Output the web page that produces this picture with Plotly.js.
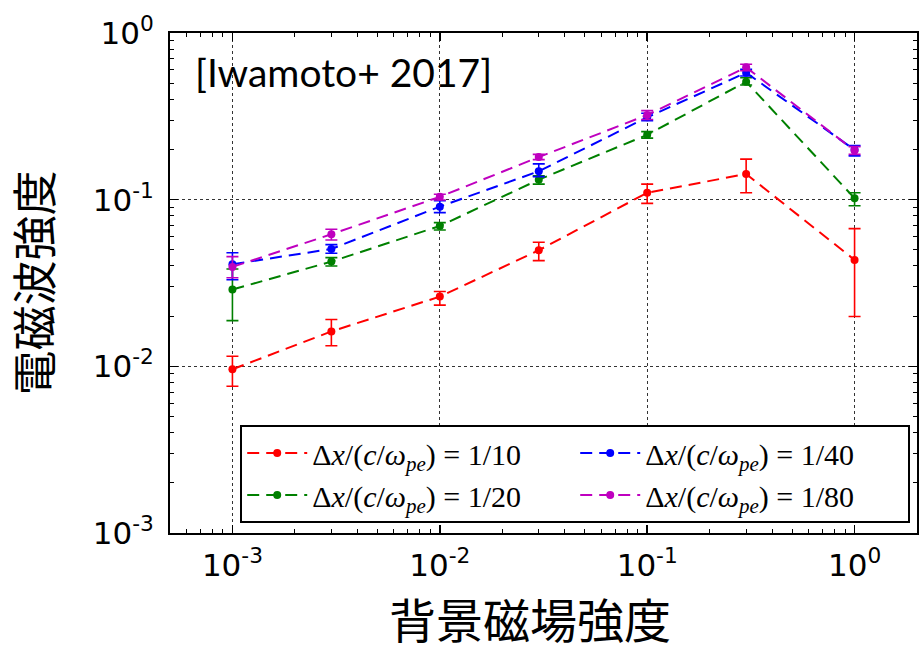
<!DOCTYPE html>
<html>
<head>
<meta charset="utf-8">
<script src="https://cdn.plot.ly/plotly-3.0.1.min.js"></script>
<style>
  html, body { margin: 0; padding: 0; background: #fff; }
  #chart { width: 919px; height: 654px; }
</style>
</head>
<body>
<div id="chart"></div>
<script>
// Background magnetic field strength (x) and electromagnetic wave intensity (y)
const fieldStrength = [1e-3, 3e-3, 1e-2, 3e-2, 0.1, 0.3, 1];

// Δx/(c/ω_pe) = 1/10
const res10   = [0.0096, 0.0162, 0.0262, 0.0497, 0.110, 0.1426, 0.0435];
const res10Hi = [0.0115, 0.0191, 0.0281, 0.0555, 0.124, 0.175, 0.067];
const res10Lo = [0.0076, 0.0133, 0.0233, 0.0431, 0.095, 0.110, 0.0199];

// Δx/(c/ω_pe) = 1/20
const res20   = [0.0289, 0.0425, 0.0695, 0.1318, 0.245, 0.510, 0.102];
const res20Hi = [0.0384, 0.0449, 0.0728, 0.139, 0.256, 0.539, 0.110];
const res20Lo = [0.0188, 0.0400, 0.0658, 0.124, 0.234, 0.488, 0.092];

// Δx/(c/ω_pe) = 1/40
const res40   = [0.0410, 0.0506, 0.0908, 0.148, 0.312, 0.578, 0.199];
const res40Hi = [0.0480, 0.0537, 0.0986, 0.164, 0.330, 0.605, 0.211];
const res40Lo = [0.0331, 0.0477, 0.0836, 0.1375, 0.298, 0.552, 0.183];

// Δx/(c/ω_pe) = 1/80
const res80   = [0.0395, 0.0620, 0.104, 0.180, 0.322, 0.622, 0.197];
const res80Hi = [0.0455, 0.0664, 0.1077, 0.187, 0.342, 0.649, 0.208];
const res80Lo = [0.0340, 0.0573, 0.0996, 0.174, 0.303, 0.594, 0.187];

const seriesLabels = ['1/10', '1/20', '1/40', '1/80'];
const seriesColors = ['#ff0000', '#008000', '#0000ff', '#bf00bf'];
const legendRanks = [1, 3, 2, 4];

const xTickVals = [1e-3, 1e-2, 1e-1, 1];
const xTickText = ['10<sup>-3</sup>', '10<sup>-2</sup>', '10<sup>-1</sup>', '10<sup>0</sup>'];
const yTickVals = [1e-3, 1e-2, 1e-1, 1];
const yTickText = ['10<sup>-3</sup>', '10<sup>-2</sup>', '10<sup>-1</sup>', '10<sup>0</sup>'];

function minorTicks(fromExp, toExp) {
  const out = [];
  for (let e = fromExp; e <= toExp; e++) {
    for (let m = 2; m <= 9; m++) out.push(m * Math.pow(10, e));
  }
  return out;
}

function makeTrace(y, hi, lo, i) {
  return {
    type: 'scatter',
    mode: 'lines+markers',
    x: fieldStrength,
    y: y,
    name: 'Δ<i>x</i>/(<i>c</i>/<i>ω</i><sub><i>pe</i></sub>) = ' + seriesLabels[i],
    legendrank: legendRanks[i],
    line: { color: seriesColors[i], width: 2, dash: '12px,7px' },
    marker: { color: seriesColors[i], size: 8 },
    error_y: {
      type: 'data',
      symmetric: false,
      array: hi.map((v, k) => v - y[k]),
      arrayminus: lo.map((v, k) => y[k] - v),
      color: seriesColors[i],
      thickness: 1.6,
      width: 6
    }
  };
}

const traces = [
  makeTrace(res10, res10Hi, res10Lo, 0),
  makeTrace(res20, res20Hi, res20Lo, 1),
  makeTrace(res40, res40Hi, res40Lo, 2),
  makeTrace(res80, res80Hi, res80Lo, 3)
];

const tickFont = { family: 'DejaVu Sans', size: 31, color: '#000' };
const cjkFont = 'Noto Sans CJK JP';

const layout = {
  width: 919,
  height: 654,
  margin: { l: 170, r: 2, t: 33, b: 121 },
  paper_bgcolor: '#fff',
  plot_bgcolor: '#fff',
  showlegend: true,
  xaxis: {
    type: 'log',
    range: [Math.log10(5e-4), Math.log10(2)],
    tickmode: 'array',
    tickvals: xTickVals,
    ticktext: xTickText,
    tickfont: tickFont,
    ticks: 'inside',
    ticklen: 8,
    tickwidth: 1.5,
    tickcolor: '#000',
    ticklabelstandoff: 4,
    minor: { tickmode: 'array', tickvals: minorTicks(-4, 0), ticks: 'inside', ticklen: 4, tickwidth: 1, tickcolor: '#000', showgrid: false },
    showline: true,
    linecolor: '#000',
    linewidth: 2,
    mirror: 'allticks',
    showgrid: true,
    gridcolor: '#333',
    griddash: 'dot',
    gridwidth: 1,
    zeroline: false
  },
  yaxis: {
    type: 'log',
    range: [-3, 0],
    tickmode: 'array',
    tickvals: yTickVals,
    ticktext: yTickText,
    tickfont: tickFont,
    ticks: 'inside',
    ticklen: 8,
    tickwidth: 1.5,
    tickcolor: '#000',
    ticklabelstandoff: 8,
    minor: { tickmode: 'array', tickvals: minorTicks(-3, -1), ticks: 'inside', ticklen: 4, tickwidth: 1, tickcolor: '#000', showgrid: false },
    showline: true,
    linecolor: '#000',
    linewidth: 2,
    mirror: 'allticks',
    showgrid: true,
    gridcolor: '#333',
    griddash: 'dot',
    gridwidth: 1,
    zeroline: false,
    title: { text: '電磁波強度', font: { family: cjkFont, size: 45, color: '#000' }, standoff: 40 }
  },
  legend: {
    orientation: 'h',
    x: 0.094,
    xanchor: 'left',
    y: 0.216,
    yanchor: 'top',
    bgcolor: '#fff',
    bordercolor: '#000',
    borderwidth: 2,
    entrywidth: 258,
    itemwidth: 60,
    font: { family: 'Liberation Serif', size: 30, color: '#000' }
  },
  annotations: [
    {
      xref: 'paper', yref: 'paper',
      x: 0.031, y: 0.922,
      xanchor: 'left', yanchor: 'middle',
      text: '[Iwamoto+ 2017]',
      showarrow: false,
      font: { family: 'Lato', size: 39, color: '#000' }
    },
    {
      // x-axis title
      xref: 'paper', yref: 'paper',
      x: 0.482, y: -0.242,
      xanchor: 'center', yanchor: 'bottom',
      text: '背景磁場強度',
      showarrow: false,
      font: { family: cjkFont, size: 47, color: '#000' }
    }
  ]
};

Plotly.newPlot('chart', traces, layout, { displayModeBar: false, staticPlot: true });
</script>
</body>
</html>
